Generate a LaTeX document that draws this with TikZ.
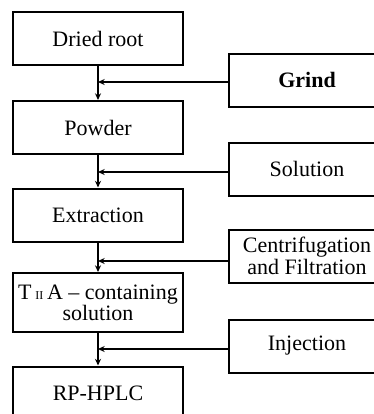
\documentclass[tikz,border=0pt]{standalone}
\usepackage{fontspec}
\setmainfont{Liberation Serif}
\usetikzlibrary{arrows.meta,positioning}
\newcommand{\pxu}{*0.75pt}
\tikzset{
  >={Stealth[length=5pt,width=4.5pt]},
  every node/.style={font=\fontsize{16.5}{16}\selectfont},
  proc/.style={draw, line width=1.5pt, minimum width=170\pxu, minimum height=53\pxu, align=center, inner sep=0pt},
  side/.style={proc, minimum width=156\pxu},
  feed/.style={->, line width=1.2pt},
}

\begin{document}
\begin{tikzpicture}[x=0.75pt, y=-0.75pt]
\useasboundingbox (0,0) rectangle (374,414);
\clip (0,0) rectangle (374,414);

% ---------------------------------------------------------------- main chain
\node[proc] (root) at (98,38.5) {Dried root};
\node[proc] (powder) at (98,127.5) {Powder};
\node[proc] (extr) at (98,215) {Extraction};
\node[proc, minimum height=59\pxu] (tiia) at (98,302.5) {T\,{\small II}\,A -- containing\\solution};
\node[proc] (hplc) at (98,393) {RP-HPLC};

\draw[feed] (root) -- (powder);
\draw[feed] (powder) -- (extr);
\draw[feed] (extr) -- (tiia);
\draw[feed] (tiia) -- (hplc);

% ---------------------------------------------------------------- side steps
\node[side] (grind) at (307,80) {\textbf{Grind}};
\node[side] (solv) at (307,169) {Solution};
\node[side] (cent) at (307,256) {Centrifugation\\and Filtration};
\node[side] (inj) at (307,346) {Injection};

\draw[feed] ([yshift=-2\pxu]grind.west) -- ([yshift=-2\pxu]grind.west -| root.south);
\draw[feed] ([yshift=-3\pxu]solv.west) -- ([yshift=-3\pxu]solv.west -| powder.south);
\draw[feed] ([yshift=-5\pxu]cent.west) -- ([yshift=-5\pxu]cent.west -| extr.south);
\draw[feed] ([yshift=-3\pxu]inj.west) -- ([yshift=-3\pxu]inj.west -| tiia.south);

\end{tikzpicture}
\end{document}
